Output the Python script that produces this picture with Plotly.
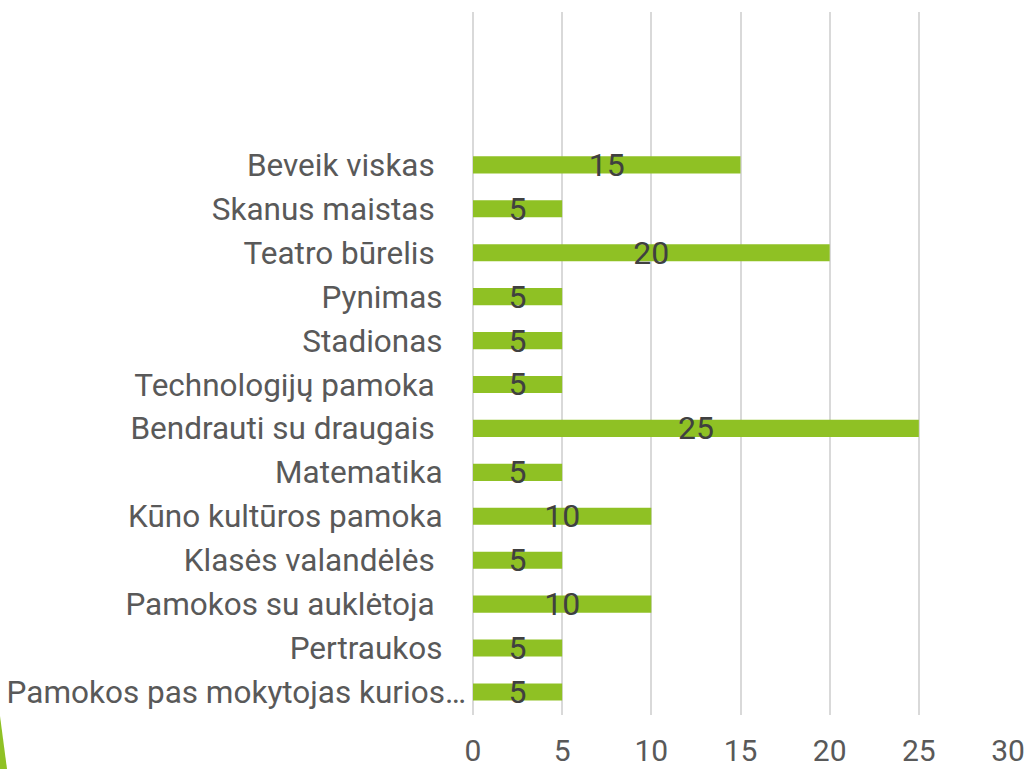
import plotly.graph_objects as go

# Categories listed bottom-to-top
categories = [
    "Pamokos pas mokytojas kurios…",
    "Pertraukos",
    "Pamokos su auklėtoja ",
    "Klasės valandėlės ",
    "Kūno kultūros pamoka",
    "Matematika",
    "Bendrauti su draugais ",
    "Technologijų pamoka ",
    "Stadionas",
    "Pynimas",
    "Teatro būrelis ",
    "Skanus maistas ",
    "Beveik viskas ",
]
values = [5, 5, 10, 5, 10, 5, 25, 5, 5, 5, 20, 5, 15]
x_ticks = [0, 5, 10, 15, 20, 25, 30]


def pad(label):
    # Excel leaves a gap before the axis; truncated label runs closer to it
    if label.endswith("…"):
        return label
    if label.endswith(" "):
        return label.rstrip() + "\u00a0" * 4
    return label + "\u00a0" * 3


labels = [pad(c) for c in categories]

FONT = "Roboto"
bar_color = "#8FC124"

# plot area in pixels
L, R, T, B = 473, 1008, 12, 715
W, H = R - L, B - T


def px(x, y):
    return (x - L) / W, (B - y) / H


p1, p2, p3 = px(0, 716), px(7, 769), px(0, 769)
tri = f"M {p1[0]} {p1[1]} L {p2[0]} {p2[1]} L {p3[0]} {p3[1]} Z"

fig = go.Figure(
    go.Bar(
        x=values,
        y=list(range(len(categories))),
        orientation="h",
        width=0.39,
        marker=dict(color=bar_color, line=dict(width=0)),
        text=[str(v) for v in values],
        textposition="inside",
        insidetextanchor="middle",
        constraintext="none",
        textangle=0,
        textfont=dict(family=FONT, size=32, color="#404040"),
        cliponaxis=False,
    )
)

fig.update_layout(
    width=1030,
    height=769,
    margin=dict(l=L, r=1030 - R, t=T, b=769 - B, autoexpand=False),
    paper_bgcolor="white",
    plot_bgcolor="white",
    showlegend=False,
    shapes=[
        dict(
            type="path",
            xref="paper",
            yref="paper",
            path=tri,
            fillcolor="#8FC124",
            line=dict(width=0),
            layer="above",
        )
    ],
)

fig.update_xaxes(
    range=[0, 30],
    tickvals=x_ticks,
    ticktext=[str(t) for t in x_ticks],
    showgrid=True,
    gridcolor="#D9D9D9",
    gridwidth=1.5,
    zeroline=True,
    zerolinecolor="#D9D9D9",
    zerolinewidth=1.5,
    showline=False,
    ticks="",
    tickfont=dict(family=FONT, size=30, color="#595959"),
    ticklabelstandoff=15,
    automargin=False,
    fixedrange=True,
)

fig.update_yaxes(
    range=[-0.524, 15.48],
    tickvals=list(range(len(categories))),
    ticktext=labels,
    showgrid=False,
    zeroline=False,
    showline=False,
    ticks="",
    tickfont=dict(family=FONT, size=31.5, color="#595959"),
    ticklabelstandoff=6,
    automargin=False,
    fixedrange=True,
)

fig.write_html(
    "out.html",
    config={"displayModeBar": False},
    post_script="document.body.style.margin='0px';document.body.style.overflow='hidden';",
)
